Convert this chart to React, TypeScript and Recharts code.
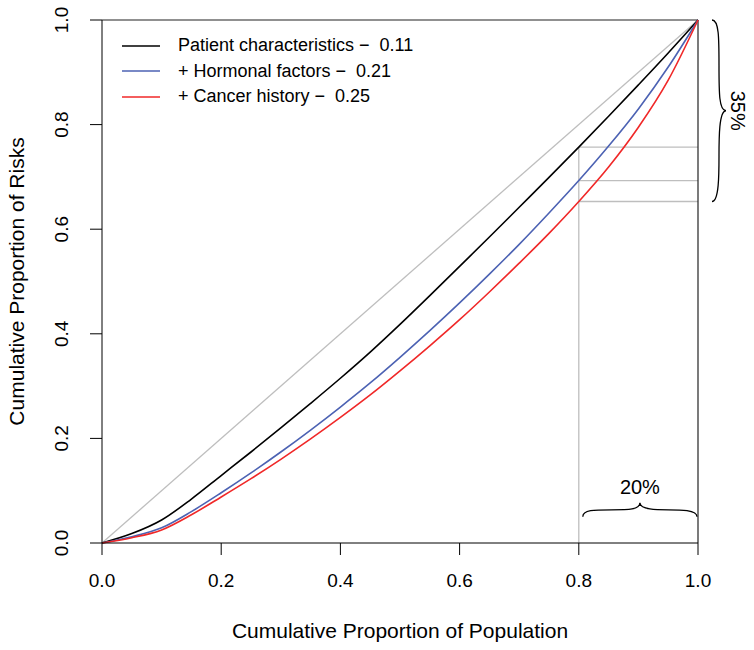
import React from 'react';
import { LineChart, Line, XAxis, YAxis, ReferenceLine } from 'recharts';

// cumulative proportion of population
const xs = [0, 0.05, 0.1, 0.15, 0.2, 0.25, 0.3, 0.35, 0.4, 0.45, 0.5, 0.55, 0.6, 0.65, 0.7, 0.75, 0.8, 0.85, 0.9, 0.95, 1.0];
// cumulative proportion of risks, one list per model
const patient = [0, 0.018, 0.044, 0.084, 0.129, 0.174, 0.22, 0.267, 0.315, 0.365, 0.418, 0.473, 0.529, 0.585, 0.642, 0.699, 0.757, 0.816, 0.876, 0.937, 1.0];
const hormonal = [0, 0.012, 0.029, 0.06, 0.096, 0.134, 0.174, 0.216, 0.26, 0.306, 0.355, 0.406, 0.459, 0.514, 0.571, 0.631, 0.693, 0.759, 0.83, 0.91, 1.0];
const cancer = [0, 0.01, 0.025, 0.054, 0.088, 0.123, 0.16, 0.199, 0.24, 0.283, 0.329, 0.377, 0.427, 0.48, 0.535, 0.592, 0.653, 0.719, 0.795, 0.885, 1.0];

const ticks = [0, 0.2, 0.4, 0.6, 0.8, 1.0];
const cutoff = 0.8;

const series = [
  { key: 'patient', name: 'Patient characteristics', stat: '0.11', color: '#000000', values: patient },
  { key: 'hormonal', name: '+ Hormonal factors', stat: '0.21', color: '#4C62B3', values: hormonal },
  { key: 'cancer', name: '+ Cancer history', stat: '0.25', color: '#F02828', values: cancer },
];

const data = xs.map((x, i) => ({ x, patient: patient[i], hormonal: hormonal[i], cancer: cancer[i] }));

const cutIdx = xs.indexOf(cutoff);
const cutVals = series.map((s) => s.values[cutIdx]);
const lowest = Math.min(...cutVals);

const FONT = '"Liberation Sans", Arial, Helvetica, sans-serif';
const GREY = '#BEBEBE';

const YTick = (props: any) => {
  const { x, y, payload } = props;
  return (
    <text x={x} y={y} transform={`rotate(-90, ${x}, ${y})`} textAnchor="middle" fontSize={19} fill="#000" fontFamily={FONT}>
      {payload.value.toFixed(1)}
    </text>
  );
};

// curly brace below the segment, tip pointing up
const HBrace = (props: any) => {
  const { x1, x2, y1 } = props;
  const left = Math.min(x1, x2) + 4;
  const right = Math.max(x1, x2) - 1;
  const h = 14;
  const ym = y1 - h / 2;
  const xm = (left + right) / 2;
  const q = (xm - left) / 2;
  const d = `M${left},${y1} C${left},${ym} ${left + q * 0.4},${ym} ${left + q},${ym} S${xm},${ym} ${xm},${y1 - h} C${xm},${ym} ${xm + q * 0.6},${ym} ${xm + q},${ym} S${right},${ym} ${right},${y1}`;
  return (
    <g>
      <path d={d} fill="none" stroke="#000" strokeWidth={1.3} />
      <text x={xm} y={y1 - h - 16} textAnchor="middle" dominantBaseline="central" fontSize={20} fontFamily={FONT} fill="#000">
        {`${Math.round((1 - cutoff) * 100)}%`}
      </text>
    </g>
  );
};

// curly brace to the right of the plot, tip pointing right
const VBrace = (props: any) => {
  const { x1, y1, y2 } = props;
  const x0 = x1 + 14;
  const top = Math.min(y1, y2);
  const bottom = Math.max(y1, y2);
  const h = 14;
  const xm = x0 + h / 2;
  const ym = (top + bottom) / 2;
  const q = (ym - top) / 2;
  const d = `M${x0},${top} C${xm},${top} ${xm},${top + q * 0.4} ${xm},${top + q} S${xm},${ym} ${x0 + h},${ym} C${xm},${ym} ${xm},${ym + q * 0.6} ${xm},${ym + q} S${xm},${bottom} ${x0},${bottom}`;
  const tx = x0 + h + 12;
  return (
    <g>
      <path d={d} fill="none" stroke="#000" strokeWidth={1.3} />
      <text x={tx} y={ym} transform={`rotate(90, ${tx}, ${ym})`} textAnchor="middle" dominantBaseline="central" fontSize={20} fontFamily={FONT} fill="#000">
        {`${Math.round((1 - lowest) * 100)}%`}
      </text>
    </g>
  );
};

export default function App() {
  return (
    <div style={{ position: 'absolute', left: 0, top: 0, width: 754, height: 650, background: '#fff', fontFamily: FONT }}>
      <LineChart width={754} height={650} data={data} margin={{ top: 20, right: 56, left: 0, bottom: 0 }} style={{ fontFamily: FONT }}>
        <XAxis
          dataKey="x"
          type="number"
          domain={[0, 1]}
          ticks={ticks}
          tickFormatter={(v: number) => v.toFixed(1)}
          height={107}
          tickSize={12}
          tickMargin={19}
          stroke="#000"
          tick={{ fill: '#000', fontSize: 19 }}
          label={{ value: 'Cumulative Proportion of Population', position: 'insideBottom', offset: 12, fill: '#000', fontSize: 21 }}
        />
        <YAxis
          type="number"
          domain={[0, 1]}
          ticks={ticks}
          width={102}
          tickSize={12}
          tickMargin={22}
          stroke="#000"
          tick={<YTick />}
          label={{ value: 'Cumulative Proportion of Risks', angle: -90, position: 'insideLeft', offset: 17, fill: '#000', fontSize: 21, style: { textAnchor: 'middle' } }}
        />
        <ReferenceLine segment={[{ x: 0, y: 0 }, { x: 1, y: 1 }]} stroke={GREY} strokeWidth={1.3} />
        <ReferenceLine segment={[{ x: cutoff, y: 0 }, { x: cutoff, y: cutVals[0] }]} stroke={GREY} strokeWidth={1.3} />
        {cutVals.map((v, i) => (
          <ReferenceLine key={i} segment={[{ x: cutoff, y: v }, { x: 1, y: v }]} stroke={GREY} strokeWidth={1.3} />
        ))}
        <ReferenceLine y={1} stroke="#222" strokeWidth={1.2} />
        <ReferenceLine x={1} stroke="#222" strokeWidth={1.2} />
        {series.map((s) => (
          <Line key={s.key} dataKey={s.key} type="monotone" stroke={s.color} strokeWidth={1.6} dot={false} isAnimationActive={false} />
        ))}
        <ReferenceLine segment={[{ x: cutoff, y: 0.05 }, { x: 1, y: 0.05 }]} shape={<HBrace />} />
        <ReferenceLine segment={[{ x: 1, y: lowest }, { x: 1, y: 1 }]} shape={<VBrace />} />
      </LineChart>
      <div style={{ position: 'absolute', left: 122, top: 33, fontSize: 18, color: '#000', lineHeight: '25.5px' }}>
        {series.map((s) => (
          <div key={s.key} style={{ display: 'flex', alignItems: 'center', whiteSpace: 'pre' }}>
            <svg width={56} height={10} style={{ display: 'block' }}>
              <line x1={0} y1={5} x2={38} y2={5} stroke={s.color} strokeWidth={1.6} />
            </svg>
            <span>{`${s.name} \u2212  ${s.stat}`}</span>
          </div>
        ))}
      </div>
    </div>
  );
}
